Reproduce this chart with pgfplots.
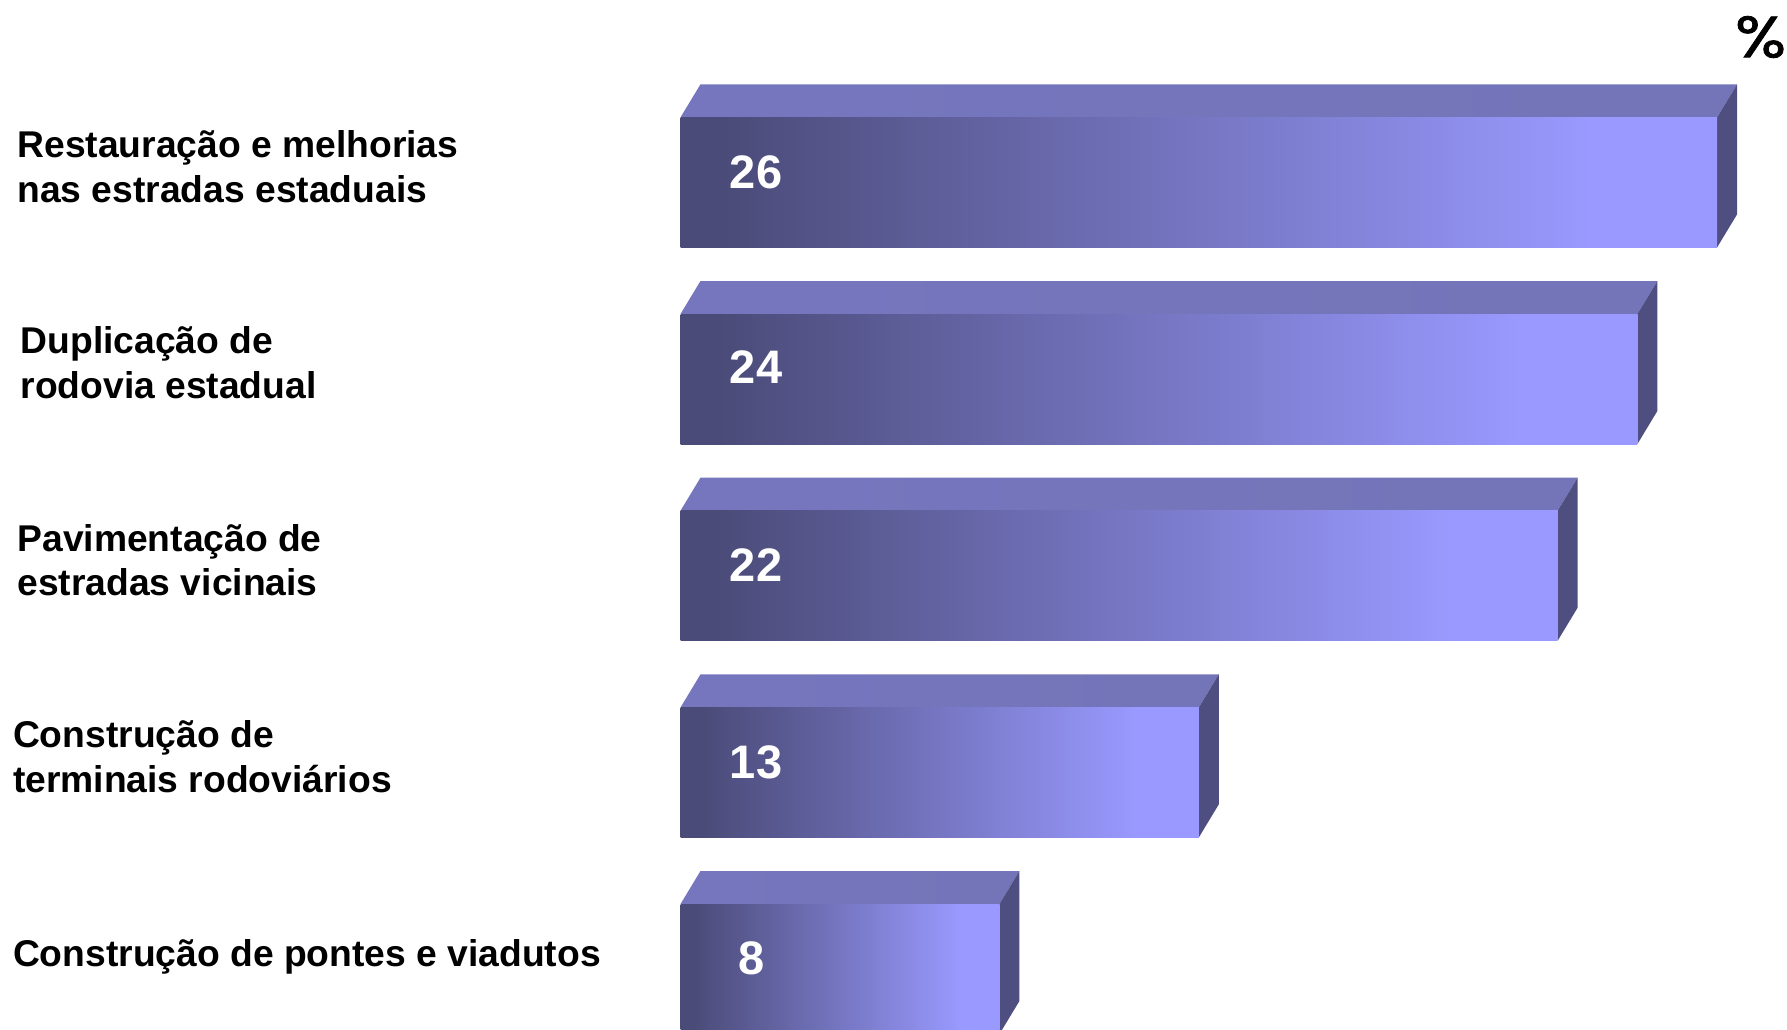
\documentclass[border=0pt]{standalone}
\usepackage{fontspec}
\setmainfont{Liberation Sans}
\newfontfamily\pctfont[FakeBold=1.3,FakeStretch=1.16]{Poppins}
\usepackage{pgfplots}
\pgfplotsset{compat=1.18}
\definecolor{frontL}{HTML}{4B4B79}
\definecolor{frontR}{HTML}{9999FF}
\definecolor{topL}{HTML}{7676BF}
\definecolor{topR}{HTML}{7474B8}
\definecolor{sideC}{HTML}{4E4E80}
\pgfdeclarehorizontalshading{frontshade}{100bp}{color(0bp)=(frontL); color(27bp)=(frontL); color(69bp)=(frontR); color(100bp)=(frontR)}
\pgfplotsset{
  front/.style={xbar, bar width=65pt, bar shift=0pt, draw=none, shade, shading=frontshade},
  topface/.style={draw=none, left color=topL, right color=topR},
  sideface/.style={draw=none, fill=sideC},
}
\begin{document}
\begin{tikzpicture}[x=1pt,y=1pt]
\path[use as bounding box] (0,0) rectangle (893.5,514.5);
\begin{axis}[
  at={(0,0)}, anchor=south west,
  scale only axis, width=893.5pt, height=514.5pt,
  hide axis,
  xmin=-17.068, xmax=27.752,
  ymin=0, ymax=1029, y dir=reverse,
  clip=true,
]
% 26
\addplot[topface] coordinates {(0,117.3)(26,117.3)(26.5,84.3)(0.5,84.3)} -- cycle;
\addplot[sideface] coordinates {(26,117.3)(26.5,84.3)(26.5,214.3)(26,247.3)} -- cycle;
\addplot[front] coordinates {(26,182.3)};
% 24
\addplot[topface] coordinates {(0,314)(24,314)(24.5,281)(0.5,281)} -- cycle;
\addplot[sideface] coordinates {(24,314)(24.5,281)(24.5,411)(24,444)} -- cycle;
\addplot[front] coordinates {(24,379)};
% 22
\addplot[topface] coordinates {(0,510.7)(22,510.7)(22.5,477.7)(0.5,477.7)} -- cycle;
\addplot[sideface] coordinates {(22,510.7)(22.5,477.7)(22.5,607.7)(22,640.7)} -- cycle;
\addplot[front] coordinates {(22,575.7)};
% 13
\addplot[topface] coordinates {(0,707.4)(13,707.4)(13.5,674.4)(0.5,674.4)} -- cycle;
\addplot[sideface] coordinates {(13,707.4)(13.5,674.4)(13.5,804.4)(13,837.4)} -- cycle;
\addplot[front] coordinates {(13,772.4)};
% 8
\addplot[topface] coordinates {(0,904)(8,904)(8.5,871)(0.5,871)} -- cycle;
\addplot[sideface] coordinates {(8,904)(8.5,871)(8.5,1001)(8,1034)} -- cycle;
\addplot[front] coordinates {(8,969)};

\tikzset{lab/.style={anchor=west, align=left, inner sep=0pt, font=\bfseries\fontsize{18.62}{22.2}\selectfont},
         num/.style={anchor=west, inner sep=0pt, text=white, font=\bfseries\fontsize{23.5}{26}\selectfont}}
\node[lab] at (axis cs:-16.64,166.5) {Restaura\c{c}\~ao e melhorias\\nas estradas estaduais};
\node[lab] at (axis cs:-16.56,362.5) {Duplica\c{c}\~ao de\\rodovia estadual};
\node[lab] at (axis cs:-16.64,560) {Pavimenta\c{c}\~ao de\\estradas vicinais};
\node[lab] at (axis cs:-16.75,756.5) {Constru\c{c}\~ao de\\terminais rodovi\'arios};
\node[lab] at (axis cs:-16.75,957) {Constru\c{c}\~ao de pontes e viadutos};
\node[num] at (axis cs:1.23,172) {26};
\node[num] at (axis cs:1.23,367.5) {24};
\node[num] at (axis cs:1.23,565.5) {22};
\node[num] at (axis cs:1.23,762) {13};
\node[num] at (axis cs:1.45,958.5) {8};
\node[anchor=east, inner sep=0pt, font=\pctfont\fontsize{29}{33}\selectfont] at (axis cs:27.74,37) {\%};
\end{axis}
\end{tikzpicture}
\end{document}
